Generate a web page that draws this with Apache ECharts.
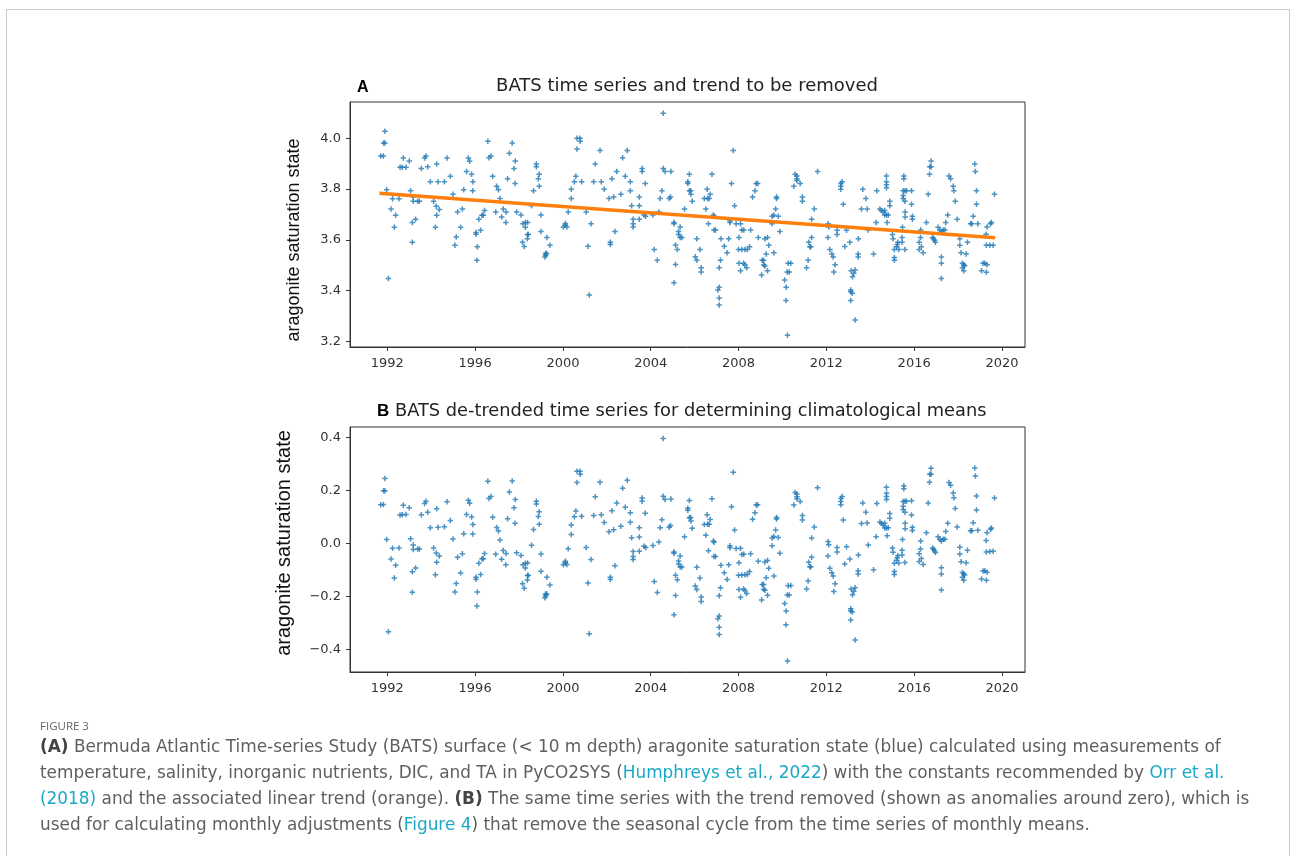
<!DOCTYPE html>
<html><head><meta charset="utf-8">
<script src="https://cdn.jsdelivr.net/npm/echarts@6/dist/echarts.min.js"></script>
<style>html,body{margin:0;padding:0;background:#fff}#c{width:1292px;height:856px}</style>
</head><body><div id="c"></div><script>
// decimal year of each BATS surface sample
const sampleYears = [
1991.70,1991.82,1991.83,1991.89,1991.89,1991.97,1992.05,1992.17,1992.24,1992.32,
1992.38,1992.53,1992.58,1992.68,1992.73,1992.85,1993.00,1993.06,1993.14,1993.14,
1993.18,1993.18,1993.29,1993.38,1993.46,1993.55,1993.70,1993.76,1993.84,1993.96,
1994.11,1994.19,1994.23,1994.25,1994.25,1994.31,1994.37,1994.60,1994.72,1994.87,
1994.99,1995.08,1995.14,1995.20,1995.34,1995.42,1995.48,1995.61,1995.69,1995.75,
1995.84,1995.89,1995.90,1996.04,1996.04,1996.08,1996.10,1996.17,1996.25,1996.31,
1996.37,1996.43,1996.58,1996.63,1996.72,1996.80,1996.94,1996.98,1997.06,1997.13,
1997.21,1997.28,1997.40,1997.41,1997.48,1997.56,1997.69,1997.77,1997.82,1997.83,
1997.89,1998.09,1998.16,1998.18,1998.24,1998.29,1998.29,1998.38,1998.39,1998.39,
1998.42,1998.57,1998.66,1998.79,1998.79,1998.88,1998.92,1998.92,1999.00,1999.00,
1999.18,1999.21,1999.21,1999.26,1999.27,1999.41,2000.02,2000.11,2000.11,2000.18,
2000.24,2000.38,2000.38,2000.52,2000.59,2000.64,2000.64,2000.78,2000.79,2000.85,
2001.06,2001.14,2001.20,2001.28,2001.40,2001.47,2001.69,2001.75,2001.88,2002.10,
2002.16,2002.16,2002.23,2002.31,2002.37,2002.45,2002.64,2002.72,2002.84,2002.93,
2003.07,2003.07,2003.13,2003.20,2003.20,2003.20,2003.48,2003.48,2003.48,2003.61,
2003.61,2003.69,2003.75,2003.77,2004.10,2004.16,2004.30,2004.37,2004.43,2004.51,
2004.57,2004.57,2004.65,2004.84,2004.90,2004.92,2005.06,2005.06,2005.06,2005.13,
2005.13,2005.21,2005.27,2005.27,2005.34,2005.34,2005.42,2005.54,2005.69,2005.69,
2005.76,2005.76,2005.82,2005.83,2005.89,2006.03,2006.10,2006.10,2006.24,2006.30,
2006.30,2006.44,2006.51,2006.57,2006.59,2006.63,2006.66,2006.71,2006.79,2006.85,
2006.88,2006.89,2006.95,2007.06,2007.12,2007.12,2007.12,2007.12,2007.18,2007.20,
2007.35,2007.48,2007.55,2007.61,2007.61,2007.68,2007.76,2007.82,2007.89,2008.00,
2008.02,2008.02,2008.09,2008.09,2008.15,2008.15,2008.23,2008.24,2008.29,2008.29,
2008.37,2008.40,2008.50,2008.55,2008.64,2008.75,2008.80,2008.87,2008.90,2009.05,
2009.08,2009.14,2009.15,2009.20,2009.20,2009.26,2009.32,2009.32,2009.38,2009.53,
2009.53,2009.61,2009.61,2009.69,2009.73,2009.73,2009.81,2009.88,2010.10,2010.16,
2010.17,2010.22,2010.23,2010.26,2010.31,2010.38,2010.52,2010.58,2010.66,2010.66,
2010.66,2010.81,2010.91,2010.91,2011.10,2011.17,2011.20,2011.25,2011.29,2011.33,
2011.33,2011.45,2011.60,2012.07,2012.08,2012.11,2012.16,2012.25,2012.31,2012.34,
2012.40,2012.49,2012.49,2012.66,2012.66,2012.66,2012.72,2012.77,2012.84,2012.92,
2013.07,2013.11,2013.11,2013.11,2013.13,2013.18,2013.19,2013.25,2013.31,2013.31,
2013.45,2013.45,2013.46,2013.60,2013.66,2013.80,2013.86,2013.91,2014.15,2014.27,
2014.30,2014.44,2014.51,2014.59,2014.66,2014.66,2014.74,2014.74,2014.74,2014.74,
2014.74,2014.77,2014.82,2014.89,2014.89,2015.01,2015.04,2015.10,2015.10,2015.10,
2015.20,2015.23,2015.26,2015.30,2015.45,2015.45,2015.47,2015.50,2015.50,2015.50,
2015.53,2015.53,2015.58,2015.58,2015.58,2015.59,2015.59,2015.65,2015.88,2015.88,
2015.92,2015.92,2016.23,2016.23,2016.29,2016.30,2016.33,2016.41,2016.56,2016.64,
2016.70,2016.71,2016.77,2016.77,2016.84,2016.88,2016.93,2016.97,2017.09,2017.17,
2017.24,2017.24,2017.24,2017.24,2017.32,2017.40,2017.44,2017.53,2017.59,2017.66,
2017.78,2017.81,2017.87,2017.96,2018.08,2018.08,2018.14,2018.20,2018.20,2018.26,
2018.26,2018.30,2018.37,2018.43,2018.57,2018.63,2018.69,2018.76,2018.79,2018.84,
2018.84,2018.90,2019.07,2019.14,2019.22,2019.28,2019.29,2019.29,2019.32,2019.32,
2019.45,2019.48,2019.52,2019.60,2019.66
];
// aragonite saturation state of each sample
const omegaValues = [
3.930,3.930,3.982,3.982,4.028,3.797,3.448,3.722,3.762,3.650,
3.697,3.762,3.886,3.886,3.922,3.886,3.911,3.793,3.668,3.591,
3.769,3.752,3.681,3.752,3.752,3.881,3.922,3.930,3.888,3.829,
3.752,3.650,3.732,3.899,3.697,3.829,3.720,3.829,3.922,3.851,
3.780,3.579,3.611,3.710,3.650,3.722,3.797,3.869,3.922,3.910,
3.858,3.793,3.829,3.622,3.629,3.520,3.573,3.681,3.638,3.697,
3.697,3.716,3.988,3.923,3.930,3.851,3.710,3.811,3.797,3.763,
3.690,3.722,3.668,3.710,3.841,3.941,3.982,3.881,3.822,3.911,
3.710,3.698,3.591,3.663,3.574,3.668,3.650,3.604,3.668,3.621,
3.621,3.734,3.793,3.899,3.888,3.841,3.858,3.811,3.698,3.633,
3.532,3.546,3.539,3.546,3.609,3.579,3.651,3.658,3.664,3.651,
3.710,3.763,3.799,3.829,3.851,4.000,3.958,4.000,3.988,3.829,
3.710,3.575,3.383,3.663,3.829,3.899,3.952,3.829,3.799,3.763,
3.591,3.582,3.841,3.769,3.633,3.869,3.780,3.923,3.851,3.952,
3.829,3.793,3.734,3.681,3.663,3.651,3.769,3.734,3.681,3.881,
3.869,3.698,3.822,3.693,3.698,3.562,3.520,3.710,3.763,3.793,
4.099,3.881,3.869,3.763,3.769,3.869,3.668,3.663,3.431,3.580,
3.503,3.562,3.633,3.621,3.651,3.609,3.609,3.722,3.829,3.822,
3.858,3.793,3.793,3.780,3.752,3.533,3.520,3.604,3.562,3.490,
3.473,3.763,3.722,3.799,3.763,3.663,3.763,3.780,3.858,3.698,
3.639,3.693,3.639,3.403,3.413,3.490,3.371,3.343,3.520,3.604,
3.575,3.549,3.604,3.675,3.668,3.822,3.952,3.734,3.663,3.562,
3.609,3.508,3.478,3.663,3.639,3.562,3.508,3.639,3.502,3.562,
3.490,3.562,3.573,3.639,3.769,3.793,3.822,3.822,3.609,3.462,
3.520,3.520,3.502,3.497,3.604,3.544,3.478,3.609,3.579,3.663,
3.693,3.549,3.698,3.722,3.769,3.763,3.693,3.633,3.442,3.361,
3.413,3.473,3.224,3.508,3.473,3.508,3.811,3.858,3.852,3.841,
3.834,3.822,3.769,3.752,3.490,3.520,3.591,3.573,3.573,3.609,
3.681,3.722,3.869,3.609,3.663,3.651,3.562,3.544,3.532,3.473,
3.502,3.638,3.621,3.822,3.811,3.799,3.829,3.740,3.574,3.638,
3.591,3.403,3.396,3.361,3.478,3.390,3.455,3.468,3.481,3.284,
3.544,3.532,3.604,3.722,3.799,3.763,3.722,3.639,3.544,3.668,
3.793,3.722,3.716,3.710,3.716,3.698,3.698,3.852,3.829,3.817,
3.805,3.668,3.698,3.752,3.734,3.621,3.604,3.562,3.531,3.520,
3.573,3.582,3.591,3.562,3.609,3.591,3.650,3.793,3.775,3.763,
3.852,3.841,3.793,3.752,3.562,3.710,3.690,3.793,3.793,3.740,
3.693,3.681,3.591,3.562,3.609,3.639,3.573,3.549,3.668,3.780,
3.858,3.888,3.888,3.911,3.609,3.604,3.598,3.591,3.650,3.639,
3.633,3.532,3.508,3.448,3.639,3.639,3.668,3.698,3.852,3.841,
3.811,3.793,3.752,3.681,3.604,3.579,3.549,3.508,3.490,3.502,
3.478,3.498,3.544,3.591,3.663,3.663,3.693,3.899,3.869,3.793,
3.740,3.663,3.478,3.508,3.508,3.622,3.472,3.579,3.502,3.651,
3.579,3.663,3.668,3.579,3.780
];
// linear trend (orange line) end points
const trendYears = [1991.64, 2019.69];
const trendValues = [3.784, 3.608];
// tick labels
const yearTicks = [1992, 1996, 2000, 2004, 2008, 2012, 2016, 2020];
const ticksA = [3.2, 3.4, 3.6, 3.8, 4.0];
const ticksB = [-0.4, -0.2, 0.0, 0.2, 0.4];

function trendAt(t) {
  const s = (trendValues[1] - trendValues[0]) / (trendYears[1] - trendYears[0]);
  return trendValues[0] + s * (t - trendYears[0]);
}
const n = Math.min(sampleYears.length, omegaValues.length);
const ptsA = [], ptsB = [];
for (let i = 0; i < n; i++) {
  ptsA.push([sampleYears[i], omegaValues[i]]);
  ptsB.push([sampleYears[i], omegaValues[i] - trendAt(sampleYears[i])]);
}
const trendPts = trendYears.map((t, i) => [t, trendValues[i]]);

const AX = '#333';
const tickFont = {color: AX, fontSize: 13, fontFamily: 'DejaVu Sans'};
const plusSym = 'path://M4,0H7V4H11V7H7V11H4V7H0V4H4Z';
function fmt(v) { return (v < -1e-9 ? '\u2212' : '') + Math.abs(v).toFixed(1); }

function xAx(gi) {
  return {type: 'value', gridIndex: gi, min: 1990.3, max: 2021.05,
    axisLine: {show: true, onZero: false, lineStyle: {color: AX, width: 1}},
    splitLine: {show: false},
    axisTick: {show: true, customValues: yearTicks, length: 4, lineStyle: {color: AX}},
    axisLabel: Object.assign({customValues: yearTicks, margin: 10, formatter: v => String(Math.round(v))}, tickFont)};
}
function yAx(gi, mn, mx, ticks) {
  return {type: 'value', gridIndex: gi, min: mn, max: mx,
    axisLine: {show: true, onZero: false, lineStyle: {color: AX, width: 1}},
    splitLine: {show: false},
    axisTick: {show: true, customValues: ticks, length: 4, lineStyle: {color: AX}},
    axisLabel: Object.assign({customValues: ticks, margin: 9, formatter: fmt}, tickFont)};
}

const capFont = '"DejaVu Sans", sans-serif';
const CS = 16.9;
const TX = '#5f5f5f', LK = '#19a9c6';
const rich = {
  n: {fontSize: CS, fontFamily: capFont, fill: TX},
  l: {fontSize: CS, fontFamily: capFont, fill: LK},
  b: {fontSize: CS, fontFamily: capFont, fill: '#444', fontWeight: 'bold'}
};
function capLine(y, text) {
  return {type: 'text', x: 40, y: y, silent: true,
    style: {text: text, rich: rich, fontSize: CS, fontFamily: capFont, fill: TX, verticalAlign: 'middle', align: 'left'}};
}

const chart = echarts.init(document.getElementById('c'), null, {renderer: 'canvas'});
chart.setOption({
  animation: false,
  backgroundColor: '#fff',
  grid: [
    {left: 350, top: 102, width: 675, height: 245, show: true, borderColor: AX, borderWidth: 1, backgroundColor: 'transparent'},
    {left: 350, top: 427, width: 675, height: 245, show: true, borderColor: AX, borderWidth: 1, backgroundColor: 'transparent'}
  ],
  xAxis: [xAx(0), xAx(1)],
  yAxis: [yAx(0, 3.178, 4.143, ticksA), yAx(1, -0.485, 0.44, ticksB)],
  series: [
    {type: 'scatter', xAxisIndex: 0, yAxisIndex: 0, data: ptsA, symbol: plusSym, symbolSize: 5.5,
      itemStyle: {color: '#1f77b4'}, silent: true},
    {type: 'line', xAxisIndex: 0, yAxisIndex: 0, data: trendPts, showSymbol: false, symbol: 'none',
      lineStyle: {color: '#ff7f0e', width: 3.5}, silent: true, z: 3},
    {type: 'scatter', xAxisIndex: 1, yAxisIndex: 1, data: ptsB, symbol: plusSym, symbolSize: 5.5,
      itemStyle: {color: '#1f77b4'}, silent: true}
  ],
  graphic: [
    {type: 'rect', silent: true, shape: {x: 6.5, y: 9.5, width: 1283, height: 900},
      style: {fill: 'none', stroke: '#c8c8c8', lineWidth: 1}},
    {type: 'text', x: 687, y: 86, silent: true,
      style: {text: 'BATS time series and trend to be removed', font: '18px "DejaVu Sans"', fill: '#222', align: 'center', verticalAlign: 'middle'}},
    {type: 'text', x: 357, y: 88, silent: true,
      style: {text: 'A', font: 'bold 16px "Liberation Sans", Arial', fill: '#000', align: 'left', verticalAlign: 'middle'}},
    {type: 'text', x: 377, y: 411, silent: true,
      style: {text: 'B', font: 'bold 17px "Liberation Sans", Arial', fill: '#000', align: 'left', verticalAlign: 'middle'}},
    {type: 'text', x: 395, y: 411, silent: true,
      style: {text: 'BATS de-trended time series for determining climatological means', font: '17.8px "DejaVu Sans"', fill: '#222', align: 'left', verticalAlign: 'middle'}},
    {type: 'text', x: 294, y: 240, rotation: Math.PI / 2, silent: true,
      style: {text: 'aragonite saturation state', font: '18px "Liberation Sans", Arial', fill: '#111', align: 'center', verticalAlign: 'middle'}},
    {type: 'text', x: 284, y: 543, rotation: Math.PI / 2, silent: true,
      style: {text: 'aragonite saturation state', font: '20px "Liberation Sans", Arial', fill: '#111', align: 'center', verticalAlign: 'middle'}},
    {type: 'text', x: 40, y: 727, silent: true,
      style: {text: 'FIGURE 3', font: '11.5px "Open Sans", sans-serif', fill: '#666', verticalAlign: 'middle', align: 'left'}},
    capLine(748, '{b|(A)}{n| Bermuda Atlantic Time-series Study (BATS) surface (< 10 m depth) aragonite saturation state (blue) calculated using measurements of}'),
    capLine(774, '{n|temperature, salinity, inorganic nutrients, DIC, and TA in PyCO2SYS (}{l|Humphreys et al., 2022}{n|) with the constants recommended by }{l|Orr et al.}'),
    capLine(800, '{l|(2018)}{n| and the associated linear trend (orange). }{b|(B)}{n| The same time series with the trend removed (shown as anomalies around zero), which is}'),
    capLine(826, '{n|used for calculating monthly adjustments (}{l|Figure 4}{n|) that remove the seasonal cycle from the time series of monthly means.}')
  ]
});
</script></body></html>
